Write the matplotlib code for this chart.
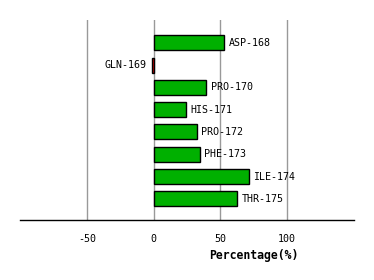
import matplotlib
matplotlib.use("Agg")
import matplotlib.pyplot as plt

residues = ["ASP-168", "GLN-169", "PRO-170", "HIS-171",
            "PRO-172", "PHE-173", "ILE-174", "THR-175"]
percent = [53.0, -1.5, 39.5, 24.2, 32.7, 34.9, 71.6, 62.6]

ticks = [-50, 0, 50, 100]


def main():
    fig = plt.figure(figsize=(3.74, 2.8), dpi=100)
    ax = fig.add_axes([20 / 374, 60 / 280, 334 / 374, 200 / 280])

    # grid lines behind the bars
    for t in ticks:
        ax.axvline(t, color="#999999", linewidth=1.0, zorder=0)

    colors = ["#00b000" if v >= 0 else "#dd0000" for v in percent]
    pos = list(range(len(residues)))
    ax.barh(pos, percent, height=0.67, color=colors,
            edgecolor="black", linewidth=1.0, zorder=2)

    for i, (name, v) in enumerate(zip(residues, percent)):
        if v >= 0:
            ax.annotate(name, (v, i), xytext=(3, 0), textcoords="offset points",
                        ha="left", va="center", fontsize=7.2,
                        family="DejaVu Sans Mono")
        else:
            ax.annotate(name, (v, i), xytext=(-4, 0), textcoords="offset points",
                        ha="right", va="center", fontsize=7.2,
                        family="DejaVu Sans Mono")

    ax.set_xlim(-100, 150)
    ax.set_ylim(7.95, -1.02)
    ax.set_xticks(ticks)
    ax.set_xticklabels([str(t) for t in ticks], family="DejaVu Sans Mono", fontsize=7.2)
    ax.tick_params(axis="x", length=0, pad=10)
    ax.set_yticks([])
    for s in ["top", "left", "right"]:
        ax.spines[s].set_visible(False)
    ax.spines["bottom"].set_linewidth(1.0)

    fig.text(254 / 374, 1 - 255 / 280, "Percentage(%)", ha="center", va="center",
             fontsize=8.3, fontweight="bold", family="DejaVu Sans Mono")

    fig.savefig("out.png", dpi=100)


if __name__ == "__main__":
    main()
